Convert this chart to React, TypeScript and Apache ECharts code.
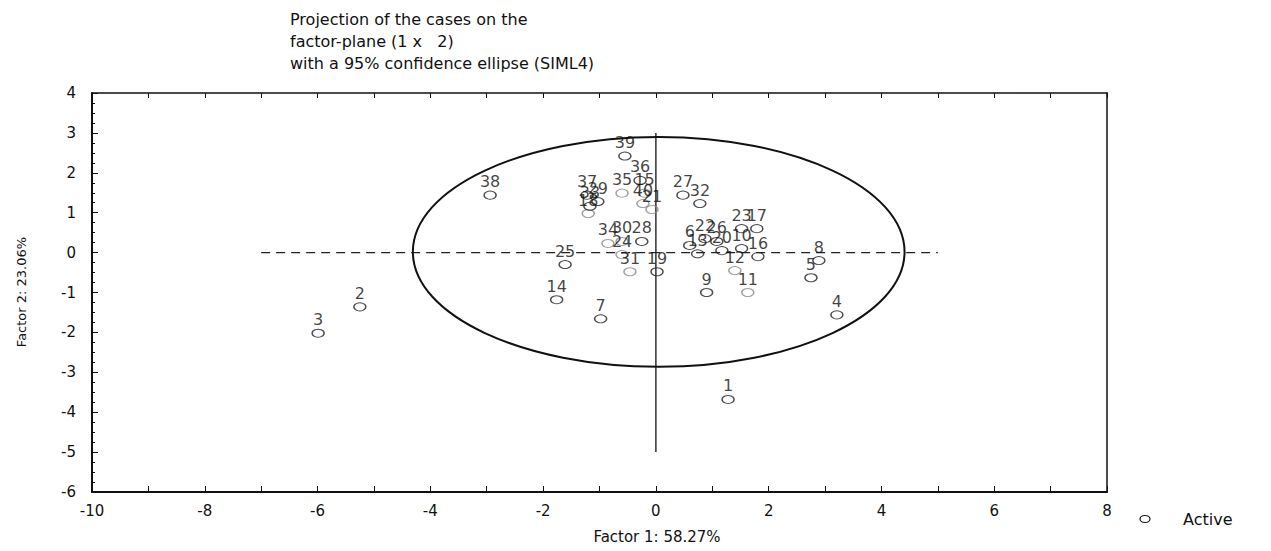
import React, { useEffect, useRef } from "react";
import * as echarts from "echarts";

// ---- data ----
const caseIds = [
  "1", "2", "3", "4", "5", "6", "7", "8", "9", "10",
  "11", "12", "13", "14", "15", "16", "17", "18", "19", "20",
  "21", "22", "23", "24", "25", "26", "27", "28", "29", "30",
  "31", "32", "33", "34", "35", "36", "37", "38", "39", "40",
];
const factor1 = [
  1.28, -5.25, -5.99, 3.21, 2.75, 0.6, -0.98, 2.89, 0.9, 1.52,
  1.63, 1.4, 0.74, -1.76, -0.2, 1.81, 1.79, -1.2, 0.02, 1.17,
  -0.07, 0.87, 1.52, -0.6, -1.61, 1.08, 0.48, -0.25, -1.03, -0.6,
  -0.46, 0.78, -1.17, -0.85, -0.6, -0.28, -1.22, -2.94, -0.55, -0.23,
];
const factor2 = [
  -3.68, -1.36, -2.02, -1.56, -0.63, 0.18, -1.66, -0.2, -1.0, 0.1,
  -1.0, -0.45, -0.03, -1.18, 1.49, -0.1, 0.6, 0.98, -0.48, 0.05,
  1.08, 0.35, 0.6, -0.05, -0.3, 0.28, 1.44, 0.28, 1.28, 0.28,
  -0.48, 1.23, 1.16, 0.23, 1.49, 1.81, 1.44, 1.44, 2.42, 1.23,
];
const xTicks = [-10, -8, -6, -4, -2, 0, 2, 4, 6, 8];
const yTicks = [-6, -5, -4, -3, -2, -1, 0, 1, 2, 3, 4];
// 95% confidence ellipse: centre and semi-axes (factor units)
const ellipseCentre = [0.05, 0.02];
const ellipseRadii = [4.36, 2.88];
// reference lines
const hLine = [[-7, 0], [5, 0]];
const vLine = [[0, 3], [0, -5]];

const titleText =
  "Projection of the cases on the\nfactor-plane (1 x   2)\nwith a 95% confidence ellipse (SIML4)";
const xName = "Factor 1: 58.27%";
const yName = "Factor 2: 23.06%";
const legendName = "Active";

// style only: markers printed lighter in the scan
const faded = new Set(["11", "12", "15", "18", "21", "30", "31", "34", "35", "40", "24"]);

const FONT = "DejaVu Sans";
const INK = "#111111";

export default function App() {
  const ref = useRef<HTMLDivElement>(null);

  useEffect(() => {
    if (!ref.current) return;
    const chart = echarts.init(ref.current, null, { renderer: "svg" });

    const points = caseIds.map((id, i) => ({
      value: [factor1[i], factor2[i], id],
      itemStyle: faded.has(id) ? { borderColor: "#8a8a8a" } : undefined,
    }));

    const axisLabel = { fontSize: 15, color: INK, fontFamily: FONT };

    chart.setOption({
      animation: false,
      backgroundColor: "#ffffff",
      title: {
        text: titleText,
        left: 285,
        top: 3,
        textStyle: {
          fontSize: 16,
          fontWeight: "normal",
          color: INK,
          fontFamily: FONT,
          lineHeight: 22,
        },
      },
      grid: { left: 92, right: 164, top: 93, bottom: 59, show: false },
      xAxis: [
        {
          type: "value",
          min: xTicks[0],
          max: xTicks[xTicks.length - 1],
          interval: 2,
          position: "bottom",
          axisLine: { show: true, onZero: false, lineStyle: { color: INK, width: 2 } },
          axisTick: { show: true, inside: true, length: 6, lineStyle: { color: INK } },
          minorTick: { show: true, splitNumber: 2, length: 6, lineStyle: { color: INK } },
          splitLine: { show: false },
          axisLabel: { ...axisLabel, margin: 11 },
        },
        {
          type: "value",
          min: xTicks[0],
          max: xTicks[xTicks.length - 1],
          interval: 2,
          position: "top",
          axisLine: { show: true, onZero: false, lineStyle: { color: INK, width: 1.5 } },
          axisTick: { show: true, inside: true, length: 5, lineStyle: { color: INK } },
          minorTick: { show: true, splitNumber: 2, length: 5, lineStyle: { color: INK } },
          splitLine: { show: false },
          axisLabel: { show: false },
        },
      ],
      yAxis: [
        {
          type: "value",
          min: yTicks[0],
          max: yTicks[yTicks.length - 1],
          interval: 1,
          position: "left",
          axisLine: { show: true, onZero: false, lineStyle: { color: INK, width: 2 } },
          axisTick: { show: true, inside: true, length: 6, lineStyle: { color: INK } },
          minorTick: { show: true, splitNumber: 4, length: 3, lineStyle: { color: INK } },
          splitLine: { show: false },
          axisLabel: { ...axisLabel, margin: 16 },
        },
        {
          type: "value",
          min: yTicks[0],
          max: yTicks[yTicks.length - 1],
          interval: 1,
          position: "right",
          axisLine: { show: true, onZero: false, lineStyle: { color: INK, width: 1.5 } },
          axisTick: { show: false },
          splitLine: { show: false },
          axisLabel: { show: false },
        },
      ],
      series: [
        {
          type: "custom",
          name: "ellipse",
          silent: true,
          data: [[ellipseCentre[0], ellipseCentre[1], ellipseRadii[0], ellipseRadii[1]]],
          renderItem: (params: any, api: any) => {
            const cx = api.value(0);
            const cy = api.value(1);
            const c = api.coord([cx, cy]);
            const e = api.coord([cx + api.value(2), cy + api.value(3)]);
            return {
              type: "ellipse",
              shape: { cx: c[0], cy: c[1], rx: e[0] - c[0], ry: c[1] - e[1] },
              style: { fill: "none", stroke: INK, lineWidth: 2 },
            };
          },
          z: 2,
        },
        {
          type: "line",
          name: "h",
          data: hLine,
          symbol: "none",
          silent: true,
          lineStyle: { color: "#222", width: 1.4, type: [9, 6] },
          z: 1,
        },
        {
          type: "line",
          name: "v",
          data: vLine,
          symbol: "none",
          silent: true,
          lineStyle: { color: "#222", width: 1.4 },
          z: 1,
        },
        {
          type: "scatter",
          name: legendName,
          data: points,
          symbol: "circle",
          symbolSize: [12, 8],
          itemStyle: { color: "rgba(0,0,0,0)", borderColor: "#222", borderWidth: 1.2 },
          label: {
            show: true,
            position: "top",
            distance: 1,
            formatter: (p: any) => p.value[2],
            fontSize: 16,
            color: INK,
            fontFamily: FONT,
          },
          labelLayout: { hideOverlap: false },
          z: 3,
        },
      ],
      graphic: [
        {
          type: "text",
          x: 657,
          y: 537,
          style: {
            text: xName,
            fontSize: 15,
            fill: INK,
            fontFamily: FONT,
            align: "center",
            verticalAlign: "middle",
          },
        },
        {
          type: "text",
          x: 21,
          y: 292,
          rotation: Math.PI / 2,
          style: {
            text: yName,
            fontSize: 13,
            fill: INK,
            fontFamily: FONT,
            align: "center",
            verticalAlign: "middle",
          },
        },
        {
          type: "ellipse",
          shape: { cx: 1145, cy: 519, rx: 5, ry: 3.5 },
          style: { fill: "none", stroke: INK, lineWidth: 1.2 },
        },
        {
          type: "text",
          x: 1183,
          y: 519,
          style: {
            text: legendName,
            fontSize: 16,
            fill: INK,
            fontFamily: FONT,
            verticalAlign: "middle",
          },
        },
      ],
    });

    return () => chart.dispose();
  }, []);

  return (
    <div
      ref={ref}
      style={{ position: "fixed", left: 0, top: 0, width: 1271, height: 551, background: "#fff" }}
    />
  );
}
